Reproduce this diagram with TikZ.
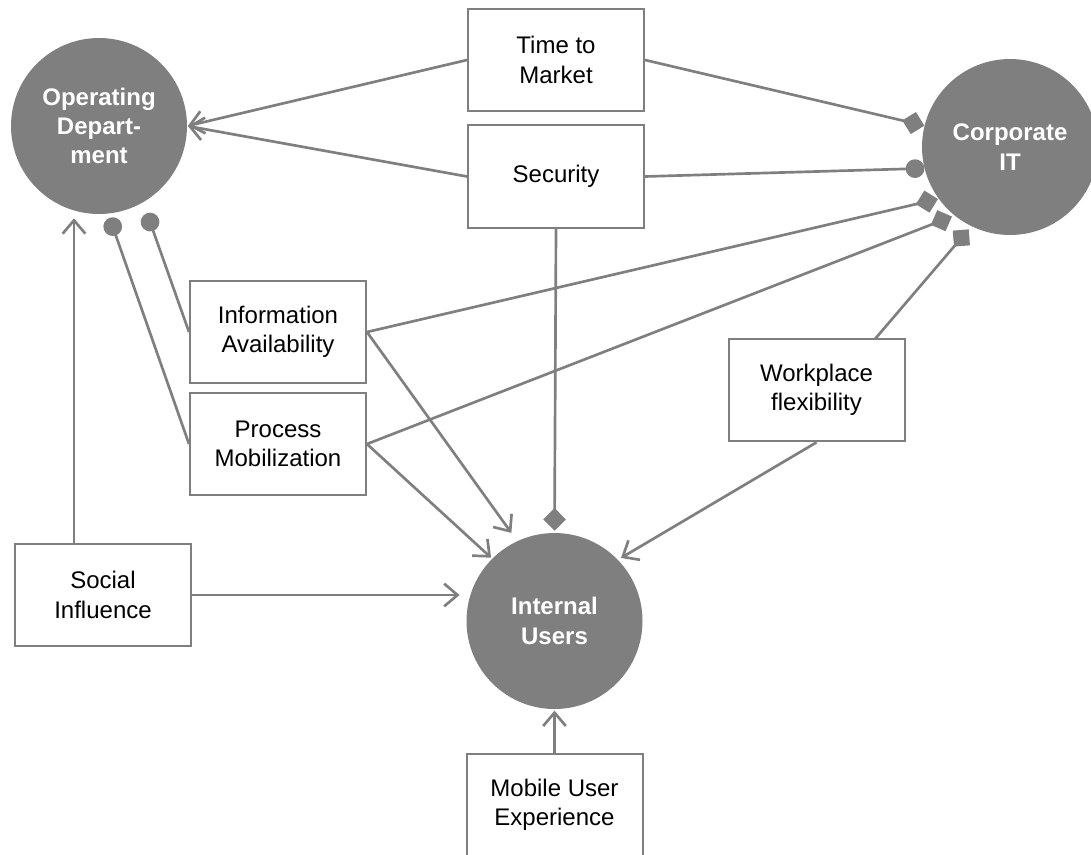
\documentclass[tikz,border=0pt]{standalone}
\usepackage{fontspec}
\setmainfont{Liberation Sans}
\usetikzlibrary{arrows.meta}
\definecolor{pptgray}{RGB}{127,127,127}

\begin{document}
\begin{tikzpicture}[x=0.75pt,y=-0.75pt,
        actor/.style={circle,fill=pptgray,minimum size=132pt,inner sep=0pt,
            text=white,font=\fontsize{18}{22}\selectfont\bfseries,align=center},
        factor/.style={draw=pptgray,line width=1.5pt,fill=white,minimum width=132pt,
            minimum height=77pt,inner sep=0pt,font=\fontsize{18}{22}\selectfont,align=center},
        link/.style={color=pptgray,line width=2pt},
        drives/.style={link,-{Straight Barb[length=10pt,width=17pt]}},
        rules/.style={link,-{Diamond[length=17pt,width=17pt]}},
        holds/.style={link,-{Circle[length=14pt]}}]
        \clip (0,0) rectangle (1091,854);

        \node[actor] (opd)  at (99,126)    {Operating\\Depart-\\ment};
        \node[actor] (corp) at (1010,147)  {Corporate\\IT};
        \node[actor] (iu)   at (554.5,621) {Internal\\Users};

        \node[factor] (ttm) at (556,60)    {Time to\\Market};
        \node[factor] (sec) at (556,176.5) {Security};
        \node[factor] (ia)  at (278,332)   {Information\\Availability};
        \node[factor] (pm)  at (278,444)   {Process\\Mobilization};
        \node[factor] (wf)  at (816.5,390) {Workplace\\flexibility};
        \node[factor] (si)  at (103,595)   {Social\\Influence};
        \node[factor] (mux) at (554.5,805) {Mobile User\\Experience};

        \coordinate (wf-top) at (875,339);
        \coordinate (si-top) at (74,544);

        \draw [drives, shorten >=0.5pt] (ttm.west) -- (opd.east);
        \draw [drives, shorten >=0.5pt] (sec.west) -- (opd.east);
        \draw [drives, shorten >=3pt] (si-top) -- (si-top |- opd.south);
        \draw [holds, shorten >=8.6pt] (ia.west) -- (opd.300.7);
        \draw [holds, shorten >=3.2pt] (pm.west) -- (opd.276.7);

        \draw [rules] (ttm.east) -- (corp.166);
        \draw [holds] (sec.east) -- (corp.194.5);
        \draw [rules, shorten >=0.5pt] (ia.east) -- (corp.216.7);
        \draw [rules, shorten >=2pt] (pm.east) -- (corp.231.4);
        \draw [rules, shorten >=3pt] (wf-top) -- (corp.244.8);

        \draw [drives, shorten >=5pt] (si.east) -- (si.east -| iu.west);
        \draw [drives, shorten >=7.5pt] (ia.east) -- (iu.115.2);
        \draw [drives, shorten >=1pt] (pm.east) -- (iu.135.4);
        \draw [rules, shorten >=1.5pt] (sec.south) -- (iu.north);
        \draw [drives, shorten >=2.6pt] (wf.south) -- (iu.44.3);
        \draw [drives, shorten >=1pt] (mux.north) -- (iu.south);
    \end{tikzpicture}
\end{document}
